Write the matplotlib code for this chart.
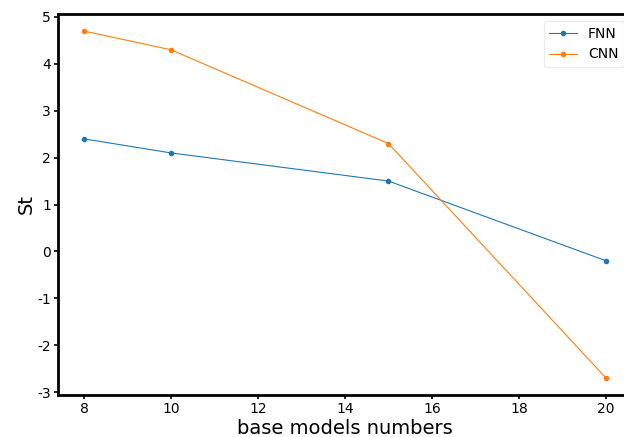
import matplotlib
matplotlib.use("Agg")
import matplotlib.pyplot as plt

plt.rcParams["axes.unicode_minus"] = False

base_models = [8, 10, 15, 20]
fnn_st = [2.4, 2.1, 1.5, -0.2]
cnn_st = [4.7, 4.3, 2.3, -2.7]

fig = plt.figure(figsize=(6.24, 4.37), dpi=100)
# axes runs past the right edge of the canvas, so the right spine is clipped
ax = fig.add_axes([58 / 624, 1 - 395 / 437, 574 / 624, 381 / 437])

ax.plot(base_models, fnn_st, marker="o", ms=3, lw=0.8, color="#1f77b4", label="FNN")
ax.plot(base_models, cnn_st, marker="o", ms=3, lw=0.8, color="#ff7f0e", label="CNN")

ax.set_xlim(7.4, 20.6)
ax.set_ylim(-3.064, 5.064)
ax.set_xticks([8, 10, 12, 14, 16, 18, 20])
ax.set_yticks(range(-3, 6))
ax.tick_params(length=3, width=1.2, labelsize=10, pad=2)
for s in ax.spines.values():
    s.set_linewidth(2)

ax.set_xlabel("base models numbers", fontsize=14, labelpad=2)
ax.set_ylabel("St", fontsize=14, labelpad=1)

leg = fig.legend(loc="upper right", bbox_to_anchor=(624 / 624, 1 - 21 / 437),
                 borderaxespad=0, fontsize=10, framealpha=0.8,
                 edgecolor="#e8e8e8", handlelength=2)

fig.savefig("out.png", dpi=100)
